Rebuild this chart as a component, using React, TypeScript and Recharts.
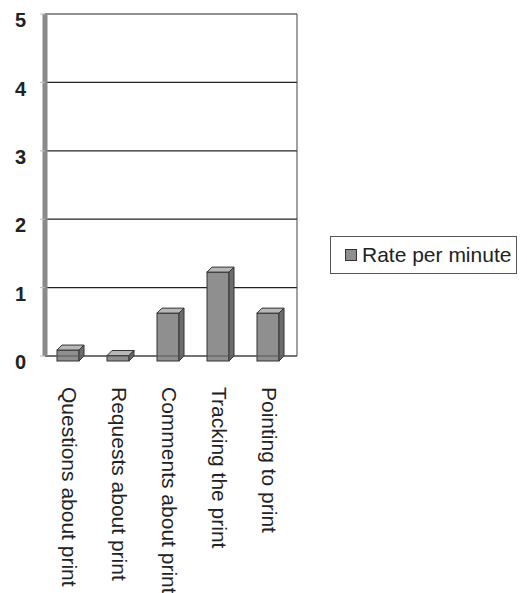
import { Bar, BarChart, CartesianGrid, Legend, XAxis, YAxis } from "recharts";

const categories = [
  "Questions about print",
  "Requests about print",
  "Comments about print",
  "Tracking the print",
  "Pointing to print",
];
const ratePerMinute = [0.16, 0.08, 0.7, 1.3, 0.7];
const yTicks = [0, 1, 2, 3, 4, 5];

const data = categories.map((name, i) => ({ name, rate: ratePerMinute[i] }));

const FONT = "'Liberation Sans', Arial, sans-serif";
const DEPTH = 5;

// fake 3D column: value sits on the back edge, front face is pushed down by DEPTH
function Column3D(props: any) {
  const { x, y, width, height } = props;
  if (height == null || width == null) return null;
  const d = DEPTH;
  const w = width - d;
  return (
    <g stroke="#333" strokeWidth={1}>
      <rect x={x} y={y + d} width={w} height={height} fill="#8f8f8f" />
      <polygon
        points={`${x},${y + d} ${x + d},${y} ${x + w + d},${y} ${x + w},${y + d}`}
        fill="#b8b8b8"
      />
      <polygon
        points={`${x + w},${y + d} ${x + w + d},${y} ${x + w + d},${y + height} ${x + w},${y + height + d}`}
        fill="#6c6c6c"
      />
    </g>
  );
}

function CategoryTick(props: any) {
  const { x, y, payload } = props;
  return (
    <g transform={`translate(${x},${y})`}>
      <text
        transform="rotate(90)"
        x={31}
        y={0}
        dy="0.36em"
        textAnchor="start"
        fontSize={21}
        fontFamily={FONT}
        fill="#222"
      >
        {payload.value}
      </text>
    </g>
  );
}

function LegendBox() {
  return (
    <div
      style={{
        border: "1px solid #555",
        height: 36,
        display: "flex",
        alignItems: "center",
        fontFamily: FONT,
        fontSize: 21,
        color: "#222",
        background: "#fff",
      }}
    >
      <span
        style={{
          display: "inline-block",
          width: 10,
          height: 10,
          marginLeft: 14,
          marginRight: 5,
          background: "#8f8f8f",
          border: "1px solid #333",
        }}
      />
      Rate per minute
    </div>
  );
}

export default function App() {
  return (
    <div style={{ position: "absolute", left: 0, top: 0, background: "#fff" }}>
      <BarChart
        width={527}
        height={593}
        data={data}
        margin={{ top: 14, right: 229, bottom: 0, left: 0 }}
        barSize={27}
      >
        <CartesianGrid vertical={false} stroke="#222" strokeWidth={1.2} />
        <XAxis
          dataKey="name"
          height={237}
          interval={0}
          tickLine={false}
          tickSize={0}
          tickMargin={0}
          padding={{ left: 0, right: 2 }}
          axisLine={{ stroke: "#555" }}
          tick={<CategoryTick />}
        />
        <YAxis
          width={45}
          domain={[0, 5]}
          ticks={yTicks}
          interval={0}
          tickSize={5}
          tickMargin={14}
          axisLine={{ stroke: "#8a8a8a", strokeWidth: 5 }}
          tickLine={{ stroke: "#bbb" }}
          tick={{ fontSize: 20, fontWeight: 700, fill: "#222", fontFamily: FONT, dy: 6 }}
        />
        <YAxis
          yAxisId="right"
          orientation="right"
          width={1}
          domain={[0, 5]}
          tick={false}
          tickLine={false}
          axisLine={{ stroke: "#444" }}
        />
        <Legend
          layout="vertical"
          align="center"
          verticalAlign="middle"
          content={<LegendBox />}
          wrapperStyle={{ left: 330, top: 236, width: 187, height: 38 }}
        />
        <Bar
          dataKey="rate"
          name="Rate per minute"
          shape={<Column3D />}
          isAnimationActive={false}
        />
      </BarChart>
    </div>
  );
}
